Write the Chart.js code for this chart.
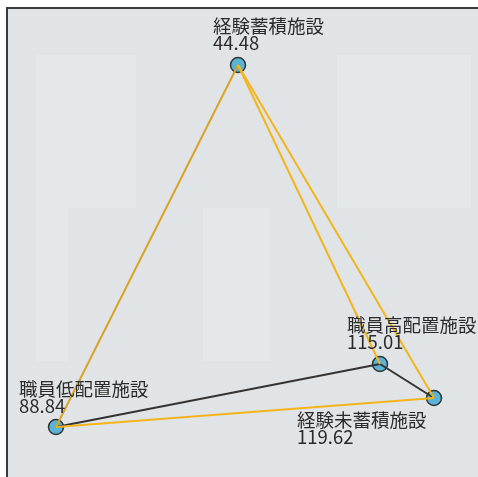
<!DOCTYPE html>
<html>
<head>
<meta charset="utf-8">
<script src="https://cdn.jsdelivr.net/npm/chart.js@4/dist/chart.umd.min.js"></script>
<style>
    html, body { margin: 0; padding: 0; background: #fff; }
    #wrap { width: 478px; height: 477px; }
</style>
</head>
<body>
<div id="wrap"><canvas id="chart" width="478" height="477"></canvas></div>
<script>
// nodes: name, value and layout position (x / y in canvas units)
const nodeNames = ['経験蓄積施設', '職員高配置施設', '経験未蓄積施設', '職員低配置施設'];
const nodeValues = [44.48, 115.01, 119.62, 88.84];
const nodeX = [238, 380, 434, 56];
const nodeY = [65, 364, 398, 427];

// edges as pairs of node indices
const orangeEdges = [[0, 1], [0, 2], [3, 2]];
const goldEdges = [[0, 3]];
const darkEdges = [[3, 1], [1, 2]];

// label placement relative to node centre
const labelDx = [-25, -33, -137, -37];
const labelDy = [-48, -48, 13, -47];

const FONT = '18.5px "Noto Sans CJK JP", "Noto Sans", sans-serif';

function edgeDataset(pair, color, width) {
    return {
        type: 'scatter',
        data: pair.map(i => ({ x: nodeX[i], y: nodeY[i] })),
        showLine: true,
        borderColor: color,
        borderWidth: width,
        pointRadius: 0,
        pointHoverRadius: 0
    };
}

// background panel, faint blocks and the frame
const panelPlugin = {
    id: 'panel',
    beforeDraw(chart) {
        const ctx = chart.ctx;
        ctx.save();
        ctx.fillStyle = '#ffffff';
        ctx.fillRect(0, 0, chart.width, chart.height);
        ctx.fillStyle = '#e1e4e7';
        ctx.fillRect(8, 9, chart.width - 8, chart.height - 9);
        ctx.fillStyle = '#e5e8ea';
        ctx.fillRect(36, 55, 100, 153);
        ctx.fillRect(36, 208, 32, 153);
        ctx.fillRect(203, 208, 67, 153);
        ctx.fillRect(337, 55, 134, 153);
        ctx.strokeStyle = '#3a3a3a';
        ctx.lineWidth = 2;
        ctx.beginPath();
        ctx.moveTo(7, chart.height);
        ctx.lineTo(7, 8);
        ctx.lineTo(chart.width, 8);
        ctx.stroke();
        ctx.restore();
    }
};

const labelPlugin = {
    id: 'nodeLabels',
    afterDatasetsDraw(chart) {
        const ctx = chart.ctx;
        const xs = chart.scales.x, ys = chart.scales.y;
        ctx.save();
        ctx.font = FONT;
        ctx.fillStyle = '#2a2a2a';
        ctx.textAlign = 'left';
        ctx.textBaseline = 'top';
        nodeNames.forEach((name, i) => {
            const px = xs.getPixelForValue(nodeX[i]) + labelDx[i];
            const py = ys.getPixelForValue(nodeY[i]) + labelDy[i];
            ctx.fillText(name, px, py);
            ctx.fillText(nodeValues[i].toFixed(2), px, py + 17);
        });
        ctx.restore();
    }
};

const datasets = [];
orangeEdges.forEach(e => datasets.push(edgeDataset(e, '#f4b41c', 2)));
goldEdges.forEach(e => datasets.push(edgeDataset(e, '#d9a325', 2)));
darkEdges.forEach(e => datasets.push(edgeDataset(e, '#333333', 2)));
// nodes last so they sit under the lines
datasets.push({
    type: 'scatter',
    data: nodeNames.map((n, i) => ({ x: nodeX[i], y: nodeY[i] })),
    pointRadius: 7.5,
    pointHoverRadius: 7.5,
    backgroundColor: '#5ab4d6',
    borderColor: '#333333',
    borderWidth: 1.5
});

new Chart(document.getElementById('chart'), {
    type: 'scatter',
    data: { datasets: datasets },
    options: {
        responsive: false,
        animation: false,
        layout: { padding: 0, autoPadding: false },
        plugins: {
            legend: { display: false },
            tooltip: { enabled: false }
        },
        scales: {
            x: { type: 'linear', min: 0, max: 478, display: false },
            y: { type: 'linear', min: 0, max: 477, reverse: true, display: false }
        }
    },
    plugins: [panelPlugin, labelPlugin]
});
</script>
</body>
</html>
